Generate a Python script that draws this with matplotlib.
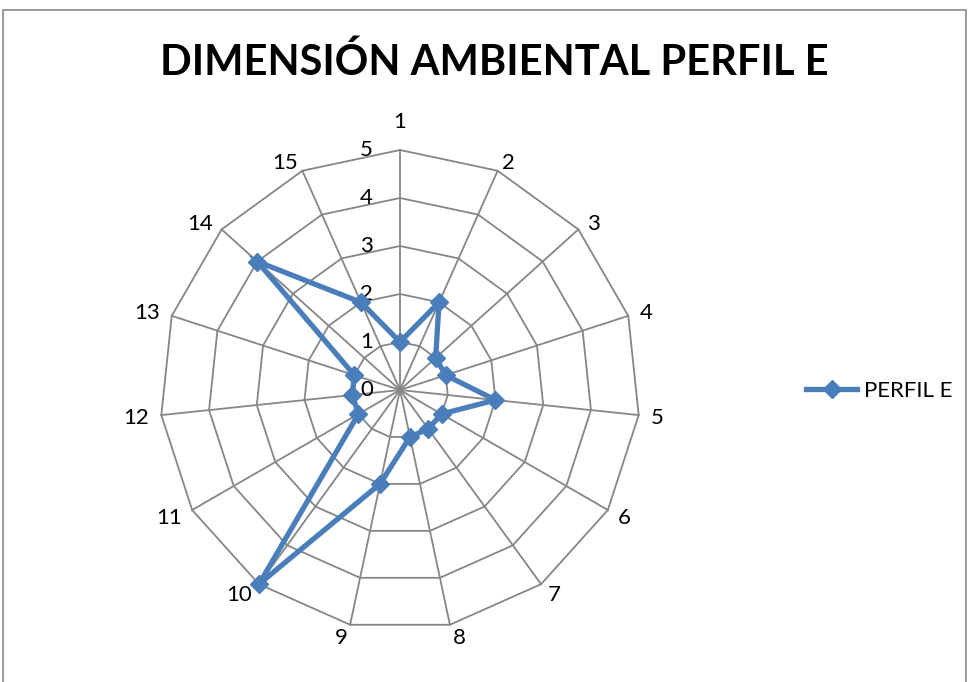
import numpy as np
import matplotlib
matplotlib.use("Agg")
import matplotlib.pyplot as plt
from matplotlib.lines import Line2D
from matplotlib.patches import Rectangle

categories = [str(i) for i in range(1, 16)]
values = [1, 2, 1, 1, 2, 1, 1, 1, 2, 5, 1, 1, 1, 4, 2]
ring_ticks = [0, 1, 2, 3, 4, 5]
series_name = "PERFIL E"
title = "DIMENSIÓN AMBIENTAL PERFIL E"

plt.rcParams["font.family"] = ["Lato", "DejaVu Sans"]

W, H = 969, 682
DPI = 100
fig = plt.figure(figsize=(W / DPI, H / DPI), dpi=DPI)

# outer chart frame
fig.patches.append(Rectangle((3 / W, -0.02), (966 - 3) / W, (H - 10) / H + 0.02,
                             transform=fig.transFigure, fill=False,
                             edgecolor="#888888", linewidth=1.2))

cx, cy, half = 400, 390, 288  # pixel centre and half-size of the plotting square
ax = fig.add_axes([(cx - half) / W, (H - cy - half) / H, 2 * half / W, 2 * half / H])
ax.set_xlim(-6, 6)
ax.set_ylim(-6, 6)
ax.set_aspect("equal")
ax.axis("off")

n = len(categories)
theta = np.arange(n) * 2 * np.pi / n
sx, cy_ = np.sin(theta), np.cos(theta)
rmax = ring_ticks[-1]
grid_col = "#868686"

# polygon rings
for r in ring_ticks[1:]:
    ax.plot(np.append(r * sx, r * sx[0]), np.append(r * cy_, r * cy_[0]),
            color=grid_col, lw=1.3, zorder=1)
# spokes
for a, b in zip(sx, cy_):
    ax.plot([0, rmax * a], [0, rmax * b], color=grid_col, lw=1.3, zorder=1)

# ring value labels, set to the left of the vertical spoke
for r in ring_ticks:
    ax.text(-0.56, r, str(r), ha="right", va="center", fontsize=16, color="black", zorder=2)

# category labels, just outside each outer vertex
px2pt = 72 / DPI
for lab, a, b in zip(categories, sx, cy_):
    if a > 0.05:
        ha = "left"
    elif a < -0.05:
        ha = "right"
    else:
        ha = "center"
    dx = 12 * a
    if abs(a) < 0.05:
        dy = 28
    elif b >= 0:
        dy = 8 * b
    else:
        dy = -(2 + 11 * abs(b))
    ax.annotate(lab, (rmax * a, rmax * b), xytext=(dx * px2pt, dy * px2pt),
                textcoords="offset points", ha=ha, va="center",
                fontsize=16, color="black")

# data series
v = np.array(values, dtype=float)
blue = "#4A7EBB"
ax.plot(np.append(v * sx, v[0] * sx[0]), np.append(v * cy_, v[0] * cy_[0]),
        color=blue, lw=3.8, marker="D", markersize=9.5, markevery=list(range(n)),
        zorder=3, solid_joinstyle="miter")

fig.text(494 / W, 1 - 62 / H, title, ha="center", va="center",
         fontsize=30, fontweight="bold", color="black")

handle = Line2D([], [], color=blue, lw=3.8, marker="D", markersize=9.5)
fig.legend([handle], [series_name], loc="center left",
           bbox_to_anchor=(806 / W, 1 - 391 / H), frameon=False, fontsize=16,
           handlelength=2.3, handletextpad=0.3, borderpad=0, borderaxespad=0)

fig.savefig("out.png", dpi=DPI)
